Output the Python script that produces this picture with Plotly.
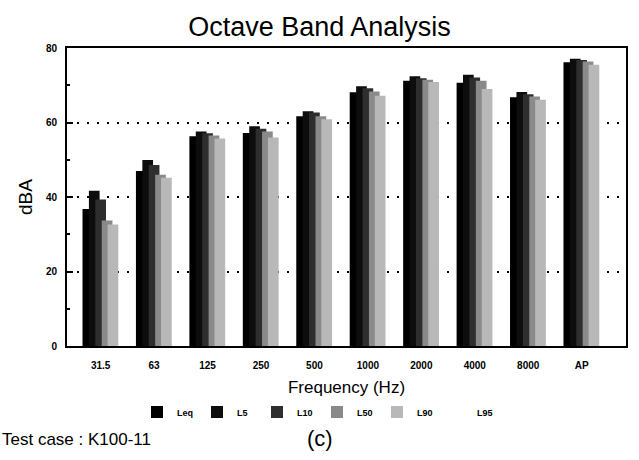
import plotly.graph_objects as go

categories = ["31.5", "63", "125", "250", "500", "1000", "2000", "4000", "8000", "AP"]
series_names = ["Leq", "L5", "L10", "L50", "L90", "L95"]
leq = [36.8, 47.0, 56.3, 57.2, 61.7, 68.1, 71.2, 70.7, 66.8, 76.2]
l5 = [41.7, 49.9, 57.6, 59.0, 63.0, 69.7, 72.4, 72.8, 68.2, 77.1]
l10 = [39.3, 48.6, 57.1, 58.3, 62.7, 69.2, 71.9, 72.1, 67.6, 76.8]
l50 = [33.7, 46.0, 56.5, 57.6, 61.7, 68.3, 71.5, 71.2, 67.0, 76.4]
l90 = [32.6, 45.2, 55.7, 56.0, 60.9, 67.2, 70.9, 69.0, 66.1, 75.5]
l95 = [None] * 10  # not visible in the reference

values = [leq, l5, l10, l50, l90, l95]
colors = ["#000000", "#0d0d0d", "#2e2e2e", "#8a8a8a", "#b8b8b8", "#ffffff"]
offsets = [-0.34, -0.22, -0.10, 0.02, 0.13, 0.24]
xpos = list(range(len(categories)))

fig = go.Figure()
for name, vals, col, off in zip(series_names, values, colors, offsets):
    fig.add_trace(go.Bar(
        x=xpos, y=vals, name=name,
        width=0.2, offset=off,
        marker=dict(color=col, line=dict(width=0)),
    ))

font_family = "Liberation Sans, Arial, Helvetica, sans-serif"

fig.update_layout(
    width=639, height=460,
    margin=dict(l=67, r=13, t=48, b=114, autoexpand=False),
    paper_bgcolor="white", plot_bgcolor="white",
    barmode="overlay",
    font=dict(family=font_family, color="black"),
    title=dict(text="Octave Band Analysis", x=0.5, xanchor="center",
               y=1 - 27 / 460, yanchor="middle", yref="container",
               font=dict(size=27, family=font_family, color="black")),
    showlegend=True,
    legend=dict(orientation="h", xref="container", yref="container",
                x=137 / 639, xanchor="left", y=1 - 412 / 460, yanchor="middle",
                entrywidth=15, entrywidthmode="pixels",
                font=dict(size=9, family=font_family, color="black", weight="bold"),
                bgcolor="rgba(0,0,0,0)"),
    xaxis=dict(range=[-0.63, 9.83], tickmode="array", tickvals=xpos, ticktext=categories,
               showline=True, linecolor="black", linewidth=2, mirror=True, automargin=False,
               showgrid=False, ticks="", zeroline=False, ticklabelstandoff=9,
               tickfont=dict(size=10, family=font_family, weight="bold"),
               title=dict(text="Frequency (Hz)", font=dict(size=17, family=font_family), standoff=12)),
    yaxis=dict(range=[0, 80], tickmode="array", tickvals=[0, 20, 40, 60, 80],
               showline=True, linecolor="black", linewidth=2, mirror=True, automargin=False,
               ticks="inside", ticklen=6, tickwidth=1.5, tickcolor="black",
               minor=dict(tickvals=[10, 30, 50, 70], ticks="inside", ticklen=3, tickcolor="black"),
               showgrid=True, gridcolor="black", gridwidth=2, griddash="2px,8px",
               zeroline=False, ticklabelstandoff=6,
               tickfont=dict(size=10, family=font_family, weight="bold"),
               title=dict(text="dBA", font=dict(size=19, family=font_family), standoff=8)),
    annotations=[
        dict(text="Test case : K100-11", xref="paper", yref="paper",
             x=-67 / 559, y=-(440 - 346) / 298, xanchor="left", yanchor="middle",
             showarrow=False, font=dict(size=17, family=font_family)),
        dict(text="(c)", xref="paper", yref="paper",
             x=(320 - 67) / 559, y=-(438 - 346) / 298, xanchor="center", yanchor="middle",
             showarrow=False, font=dict(size=22, family=font_family)),
    ],
)

fig.write_html("out.html")
